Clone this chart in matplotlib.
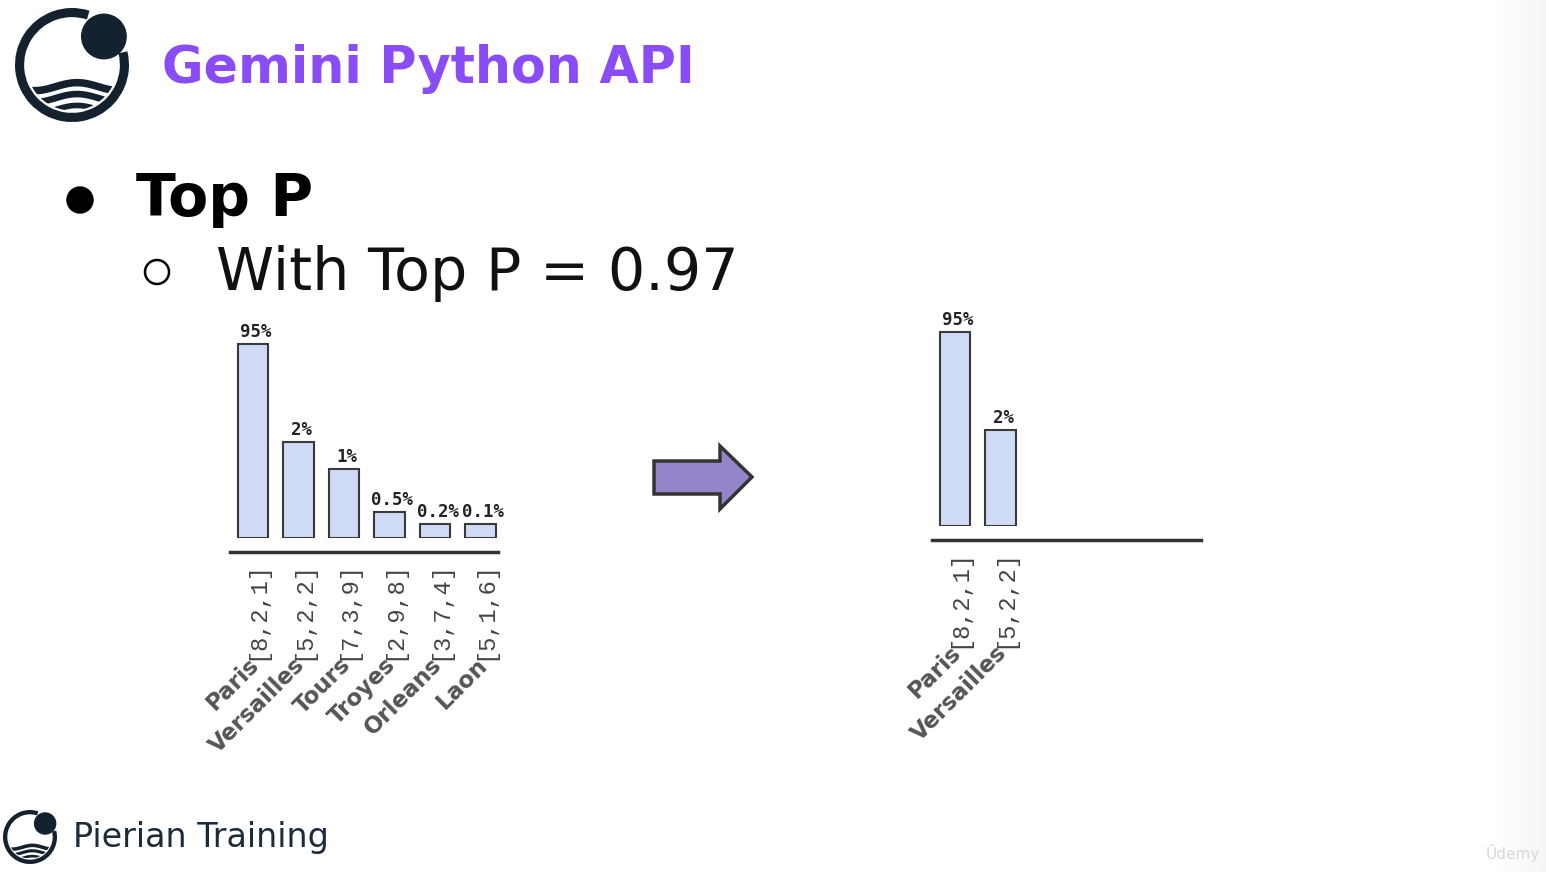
import matplotlib
matplotlib.use("Agg")
import matplotlib.pyplot as plt
import numpy as np
from matplotlib.patches import Arc, Circle, Polygon

W, H = 1546, 872

cities = ["Paris", "Versailles", "Tours", "Troyes", "Orleans", "Laon"]
tokens = ["[8,2,1]", "[5,2,2]", "[7,3,9]", "[2,9,8]", "[3,7,4]", "[5,1,6]"]
prob_labels = ["95%", "2%", "1%", "0.5%", "0.2%", "0.1%"]
# bar heights as drawn on the slide (not to scale with the probabilities)
bar_heights = [194, 96, 69, 26, 14, 14]
kept = 2  # tokens left after top p = 0.97

navy = "#14222f"
fig = plt.figure(figsize=(W / 100, H / 100), dpi=100)
fig.patch.set_facecolor("white")

# background layer in pixel coords for logos, bullets, arrow
bg = fig.add_axes([0, 0, 1, 1])
bg.set_xlim(0, W)
bg.set_ylim(0, H)
bg.axis("off")

# slight shadow at the right edge
grad = np.linspace(0, 1, 50)[None, :]
bg.imshow(grad, extent=[1496, W, 0, H], cmap="Greys", vmin=0, vmax=12, aspect="auto")


def logo(cx, cy, r):
    cy = H - cy
    ring_w = 0.16 * r
    bg.add_patch(Arc((cx, cy), 2 * (r - ring_w / 2), 2 * (r - ring_w / 2), theta1=72, theta2=14,
                     color=navy, lw=ring_w * 0.72))
    bg.add_patch(Circle((cx + 0.56 * r, cy + 0.5 * r), 0.39 * r, color=navy))
    clip = Circle((cx, cy), 0.8 * r, transform=bg.transData)
    xs = np.linspace(cx - 0.8 * r, cx + 0.8 * r, 80)
    for k, off in enumerate([0.38, 0.58, 0.78]):
        ys = cy - off * r + 0.07 * r * np.sin((xs - cx) / r * 4.2 + 1.2)
        ln, = bg.plot(xs, ys, color=navy, lw=0.11 * r * 0.72 * (1.2 - 0.15 * k), solid_capstyle="butt")
        ln.set_clip_path(clip)


logo(72, 65, 57)
logo(30, 837, 27)

# bullets
bg.add_patch(Circle((80, H - 200), 13, color="black"))
bg.add_patch(Circle((157, H - 272), 12, facecolor="none", edgecolor="black", lw=1.8))

# arrow
arrow = [(654, 461), (720, 461), (720, 446), (752, 477), (720, 509), (720, 494), (654, 494)]
bg.add_patch(Polygon([(x, H - y) for x, y in arrow], closed=True, facecolor="#9584c9",
                     edgecolor="#333333", lw=2.5, joinstyle="miter"))

fig.text(162 / W, 1 - 69 / H, "Gemini Python API", color="#8a4cf6", fontsize=36.5,
         fontweight="bold", va="center")
fig.text(136 / W, 1 - 200 / H, "Top P", color="black", fontsize=42, fontweight="bold", va="center")
fig.text(216 / W, 1 - 273 / H, "With Top P = 0.97", color="#111111", fontsize=42.3, va="center")
fig.text(73 / W, 1 - 837 / H, "Pierian Training", color="#1c2b3a", fontsize=24, va="center")
fig.text(1486 / W, 1 - 853 / H, "Ûdemy", color="#d8d8d8", fontsize=11, va="center")


def bar_chart(x0, x1, base_y, n):
    ax = fig.add_axes([x0 / W, 1 - base_y / H, (x1 - x0) / W, 200 / H])
    x = np.arange(n)
    ax.bar(x, bar_heights[:n], width=0.67, color="#d0dcf7", edgecolor="#3a3a3a", linewidth=1.5)
    for i in range(n):
        ax.annotate(prob_labels[i], (x[i], bar_heights[i]), xytext=(2, 2), textcoords="offset points",
                    ha="center", va="bottom", fontfamily="DejaVu Sans Mono", fontweight="bold",
                    fontsize=12.5, color="#222222")
        ax.annotate(tokens[i], (x[i], 0), xycoords=("data", "axes fraction"), xytext=(3, -17),
                    textcoords="offset points", rotation=90, ha="center", va="top",
                    fontfamily="Liberation Mono", fontsize=17, color="#444444")
        ax.annotate(cities[i], (x[i], 0), xycoords=("data", "axes fraction"), xytext=(8, -83),
                    textcoords="offset points", rotation=45, ha="right", va="top",
                    fontweight="bold", fontsize=16.5, color="#555555")
    ax.set_xlim(-0.5, 5.38)
    ax.set_ylim(0, 200)
    for s in ["top", "right", "left"]:
        ax.spines[s].set_visible(False)
    ax.spines["bottom"].set_position(("outward", 10))
    ax.spines["bottom"].set_linewidth(2.5)
    ax.spines["bottom"].set_color("#333333")
    ax.set_xticks([])
    ax.set_yticks([])
    ax.patch.set_alpha(0)
    return ax


bar_chart(230, 498, 538, len(cities))
bar_chart(932, 1201, 526, kept)

fig.savefig("out.png", dpi=100)
